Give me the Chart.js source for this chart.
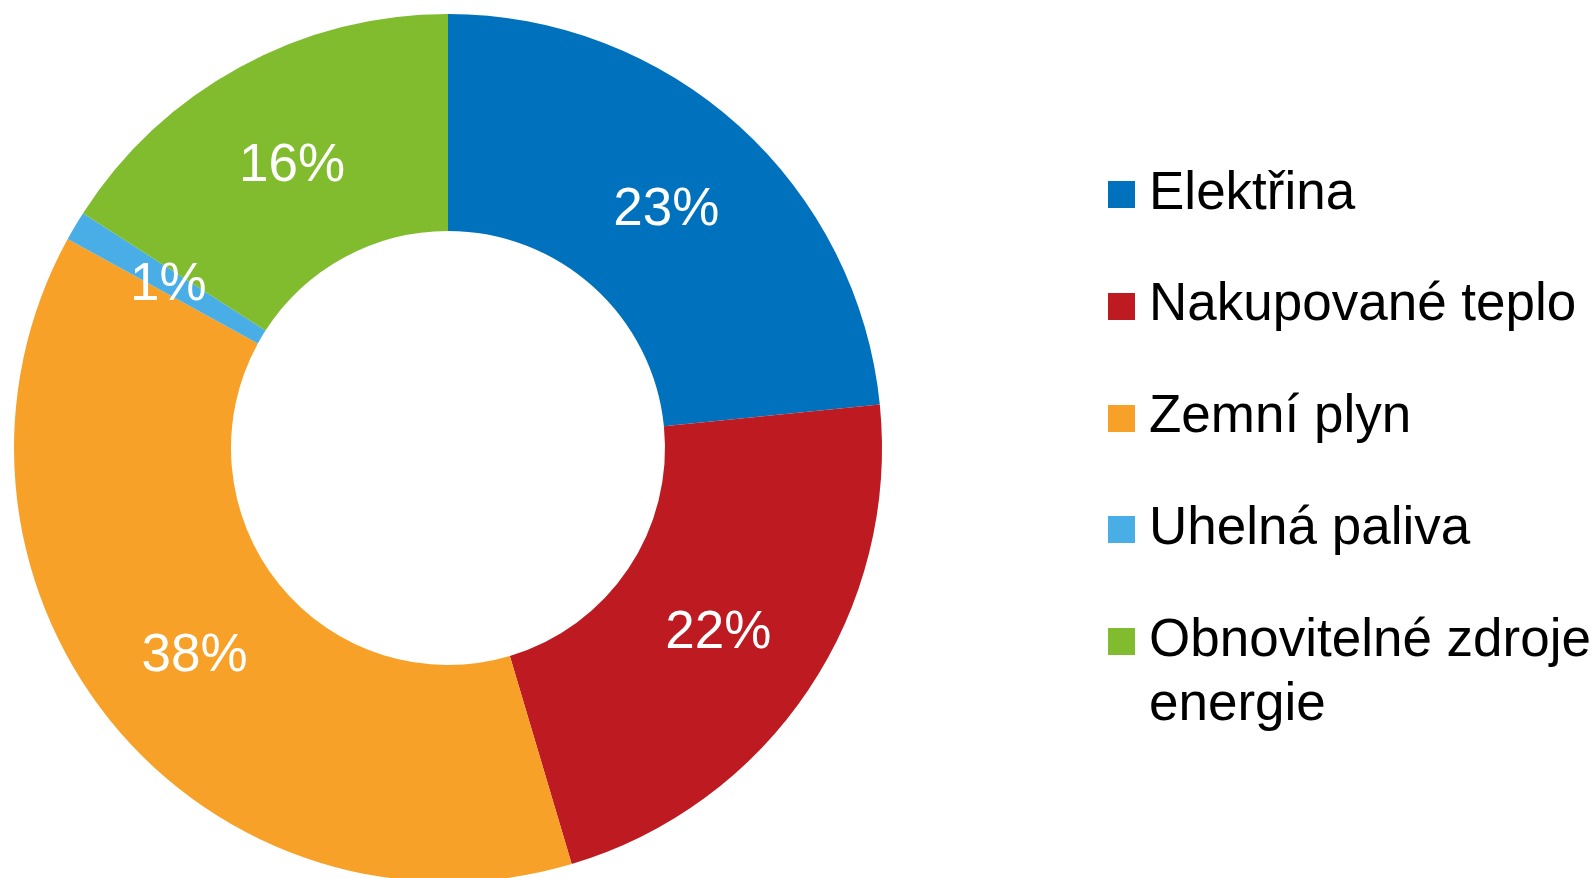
<!DOCTYPE html>
<html>
<head>
<meta charset="utf-8">
<script src="https://cdn.jsdelivr.net/npm/chart.js@4/dist/chart.umd.min.js"></script>
<style>
  html, body { margin: 0; padding: 0; background: #fff; overflow: hidden; }
  body { width: 1596px; height: 878px; position: relative; font-family: "Liberation Sans", Arial, sans-serif; }
  #chart-box { position: absolute; left: 0; top: 0; width: 896px; height: 896px; }
  #legend { position: absolute; left: 1108px; top: 158.6px; width: 488px; }
  .legend-row { position: relative; padding-left: 41px; font-size: 53px; line-height: 64px; margin-bottom: 47.8px; color: #000; }
  .legend-box { position: absolute; left: 0; top: 22.4px; width: 27px; height: 27px; }
</style>
</head>
<body>
<div id="chart-box"><canvas id="energy-chart"></canvas></div>
<div id="legend"></div>
<script>
// podíly spotřeby energie (%)
const categories = ['Elektřina', 'Nakupované teplo', 'Zemní plyn', 'Uhelná paliva', 'Obnovitelné zdroje energie'];
const shares = [23.4, 22.0, 37.6, 1.1, 15.9];
const colors = ['#0071BC', '#BE1A22', '#F7A128', '#4AAEE6', '#80BC2E'];

/* --------- popisky v dílcích --------- */
const sliceLabels = {
  id: 'sliceLabels',
  afterDatasetsDraw(chart) {
    const ctx = chart.ctx;
    const meta = chart.getDatasetMeta(0);
    ctx.save();
    ctx.fillStyle = '#fff';
    ctx.font = '53px "Liberation Sans", Arial, sans-serif';
    ctx.textAlign = 'center';
    ctx.textBaseline = 'middle';
    meta.data.forEach((arc, i) => {
      const p = arc.tooltipPosition();
      ctx.fillText(Math.round(shares[i]) + '%', p.x, p.y + 4);
    });
    ctx.restore();
  }
};

const ctx = document.getElementById('energy-chart').getContext('2d');
new Chart(ctx, {
  type: 'doughnut',
  data: {
    labels: categories,
    datasets: [{
      data: shares,
      backgroundColor: colors,
      borderWidth: 0
    }]
  },
  options: {
    responsive: true,
    maintainAspectRatio: false,
    animation: false,
    cutout: '50%',
    layout: { padding: 14 },
    plugins: {
      legend: { display: false },
      tooltip: { enabled: false }
    }
  },
  plugins: [sliceLabels]
});

/* --------- legenda --------- */
const legend = document.getElementById('legend');
categories.forEach((name, i) => {
  legend.innerHTML += `<div class="legend-row"><span class="legend-box" style="background:${colors[i]}"></span>${name}</div>`;
});
</script>
</body>
</html>
